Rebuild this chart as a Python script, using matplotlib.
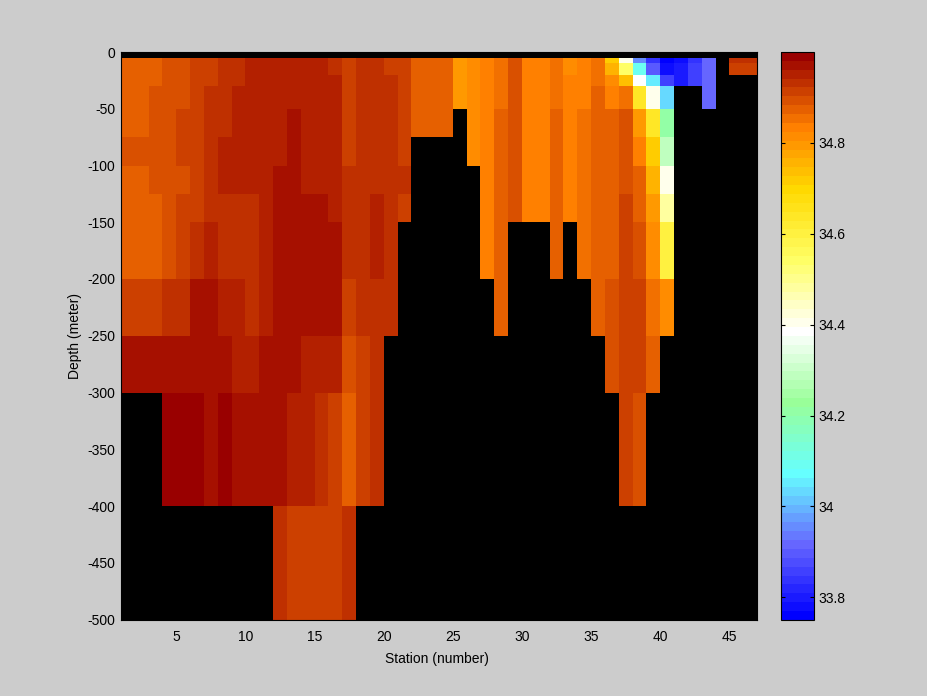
import matplotlib
matplotlib.use("Agg")
import matplotlib.pyplot as plt
import numpy as np
from matplotlib.colors import LinearSegmentedColormap, Normalize

plt.rcParams["font.family"] = ["Liberation Sans", "DejaVu Sans"]
plt.rcParams["axes.unicode_minus"] = False

n = np.nan

# salinity, one row per depth band, stations 1 to 46
row_5 = [34.87]*3 + [34.89]*2 + [34.91]*2 + [34.93]*2 + [34.95]*6 + [34.93, 34.91, 34.93, 34.93, 34.91, 34.91] \
    + [34.87]*3 + [34.79, 34.81, 34.83, 34.85, 34.89, 34.83, 34.83, 34.85, 34.81, 34.83, 34.85, 34.72, 34.41,
                   33.96, 33.84, 33.76, 33.78, 33.84, 33.92, n, 34.93, 34.93]
row_10 = [34.87]*3 + [34.89]*2 + [34.91]*2 + [34.93]*2 + [34.95]*6 + [34.93, 34.91, 34.93, 34.93, 34.91, 34.91] \
    + [34.87]*3 + [34.79, 34.81, 34.83, 34.85, 34.89, 34.83, 34.83, 34.85, 34.81, 34.83, 34.85, 34.76, 34.54,
                   34.09, 33.90, 33.78, 33.80, 33.86, 33.92, n, 34.91, 34.91]
row_20 = [34.87]*3 + [34.89]*2 + [34.91]*2 + [34.93]*2 + [34.95]*7 + [34.91, 34.93, 34.93, 34.93, 34.91] \
    + [34.87]*3 + [34.79, 34.81, 34.83, 34.85, 34.89, 34.83, 34.83, 34.85, 34.83, 34.83, 34.85, 34.81, 34.74,
                   34.39, 34.05, 33.86, 33.80, 33.86, 33.92, n, n, n]
row_30 = [34.87]*2 + [34.89]*3 + [34.91] + [34.93]*2 + [34.95]*8 + [34.91, 34.93, 34.93, 34.93, 34.91] \
    + [34.87]*3 + [34.79, 34.81, 34.83, 34.85, 34.89, 34.83, 34.83, 34.85, 34.83, 34.83, 34.87, 34.83, 34.85,
                   34.64, 34.41, 34.03, n, n, 33.92, n, n, n]
row_50 = [34.87]*2 + [34.89]*2 + [34.91]*2 + [34.93]*2 + [34.95]*4 + [34.97] + [34.95]*3 \
    + [34.91, 34.93, 34.93, 34.93, 34.91] + [34.87]*3 \
    + [n, 34.81, 34.83, 34.87, 34.89, 34.83, 34.83, 34.87, 34.83, 34.85, 34.87, 34.87, 34.89,
       34.79, 34.64, 34.21, n, n, n, n, n, n]
row_75 = [34.89]*4 + [34.91]*2 + [34.93] + [34.95]*5 + [34.97] + [34.95]*3 \
    + [34.91, 34.93, 34.93, 34.93, 34.91] + [n]*3 \
    + [n, 34.81, 34.83, 34.87, 34.89, 34.83, 34.83, 34.87, 34.83, 34.85, 34.87, 34.87, 34.89,
       34.83, 34.72, 34.29, n, n, n, n, n, n]
row_100 = [34.87]*2 + [34.89]*3 + [34.91, 34.93] + [34.95]*4 + [34.97]*2 + [34.95]*3 + [34.93]*5 + [n]*5 \
    + [34.83, 34.87, 34.89, 34.83, 34.83, 34.87, 34.83, 34.85, 34.87, 34.87, 34.89,
       34.87, 34.76, 34.41, n, n, n, n, n, n]
row_125 = [34.87]*3 + [34.89] + [34.91]*2 + [34.93]*4 + [34.95] + [34.97]*4 + [34.95] \
    + [34.93, 34.93, 34.95, 34.93, 34.91] + [n]*5 \
    + [34.83, 34.87, 34.89, 34.83, 34.83, 34.87, 34.83, 34.85, 34.87, 34.87, 34.91,
       34.87, 34.79, 34.48, n, n, n, n, n, n]
row_150 = [34.87]*3 + [34.89, 34.91, 34.93, 34.95] + [34.93]*3 + [34.95] + [34.97]*5 \
    + [34.93, 34.93, 34.95, 34.93] + [n]*6 \
    + [34.83, 34.87, n, n, n, 34.87, n, 34.85, 34.87, 34.87, 34.91,
       34.89, 34.81, 34.60, n, n, n, n, n, n]
row_200 = [34.91]*3 + [34.93]*2 + [34.97]*2 + [34.95]*2 + [34.93, 34.95] + [34.97]*5 + [34.91] + [34.93]*3 + [n]*7 \
    + [34.87] + [n]*6 + [34.87, 34.89, 34.91, 34.91, 34.85, 34.81, n, n, n, n, n, n]
row_250 = [34.97]*8 + [34.95]*2 + [34.97]*3 + [34.95]*3 + [34.89, 34.91, 34.93] + [n]*16 \
    + [34.89, 34.91, 34.91, 34.87] + [n]*7
row_300 = [n]*3 + [34.99]*3 + [34.97, 34.99] + [34.97]*4 + [34.95]*2 + [34.93, 34.91, 34.87, 34.91, 34.93] + [n]*17 \
    + [34.91, 34.89] + [n]*8
row_400 = [n]*11 + [34.93, 34.91, 34.91, 34.91, 34.91, 34.93] + [n]*29

salinity_rows = [row_5, row_10, row_20, row_30, row_50, row_75, row_100, row_125,
                 row_150, row_200, row_250, row_300, row_400]
depth_edges = [-5, -10, -20, -30, -50, -75, -100, -125, -150, -200, -250, -300, -400, -500]
station_edges = list(range(1, 48))

x_ticks = [5, 10, 15, 20, 25, 30, 35, 40, 45]
y_ticks = [0, -50, -100, -150, -200, -250, -300, -350, -400, -450, -500]
cbar_ticks = [33.8, 34, 34.2, 34.4, 34.6, 34.8]
cbar_labels = ["33.8", "34", "34.2", "34.4", "34.6", "34.8"]

# colour stops of the salinity scale
cmap_stops = [
    (0 / 63, (0, 0, 1)),
    (8 / 63, (0.4, 0.4, 1)),
    (16 / 63, (0.4, 1, 1)),
    (24 / 63, (0.6, 1, 0.6)),
    (32 / 63, (1, 1, 1)),
    (40 / 63, (1, 1, 0.4)),
    (48 / 63, (1, 0.85, 0)),
    (55 / 63, (1, 0.5, 0)),
    (63 / 63, (0.6, 0, 0)),
]
cmap = LinearSegmentedColormap.from_list("salt", cmap_stops, N=64)
norm = Normalize(vmin=33.75, vmax=35.0)

W, H = 928, 696
BG = "#cccccc"
fig = plt.figure(figsize=(W / 100, H / 100), dpi=100, facecolor=BG)
ax = fig.add_axes([121 / W, 1 - 619.5 / H, (757 - 121) / W, (619.5 - 52) / H], facecolor="black")

data = np.ma.masked_invalid(np.array(salinity_rows, dtype=float))
mesh = ax.pcolormesh(station_edges, depth_edges, data, cmap=cmap, norm=norm, shading="flat")

ax.set_xlim(1, 47)
ax.set_ylim(-500, 0)
ax.set_xticks(x_ticks)
ax.set_yticks(y_ticks)
ax.tick_params(direction="in", length=0, labelsize=10, colors="black")
ax.tick_params(axis="x", pad=7.8)
ax.tick_params(axis="y", pad=4.3)
ax.set_xlabel("Station (number)", fontsize=10, labelpad=5.2, x=0.497)
ax.set_ylabel("Depth (meter)", fontsize=10, labelpad=3.8)
for s in ax.spines.values():
    s.set_linewidth(0.8)

cax = fig.add_axes([781.5 / W, 1 - 620 / H, (814.5 - 781.5) / W, (620 - 52) / H])
cb = fig.colorbar(mesh, cax=cax)
cb.set_ticks(cbar_ticks)
cb.set_ticklabels(cbar_labels)
cb.ax.tick_params(direction="in", length=3.2, width=0.8, labelsize=10, pad=2.5, left=True, right=True)
cb.outline.set_linewidth(0.8)

fig.savefig("out.png", dpi=100, facecolor=BG)
